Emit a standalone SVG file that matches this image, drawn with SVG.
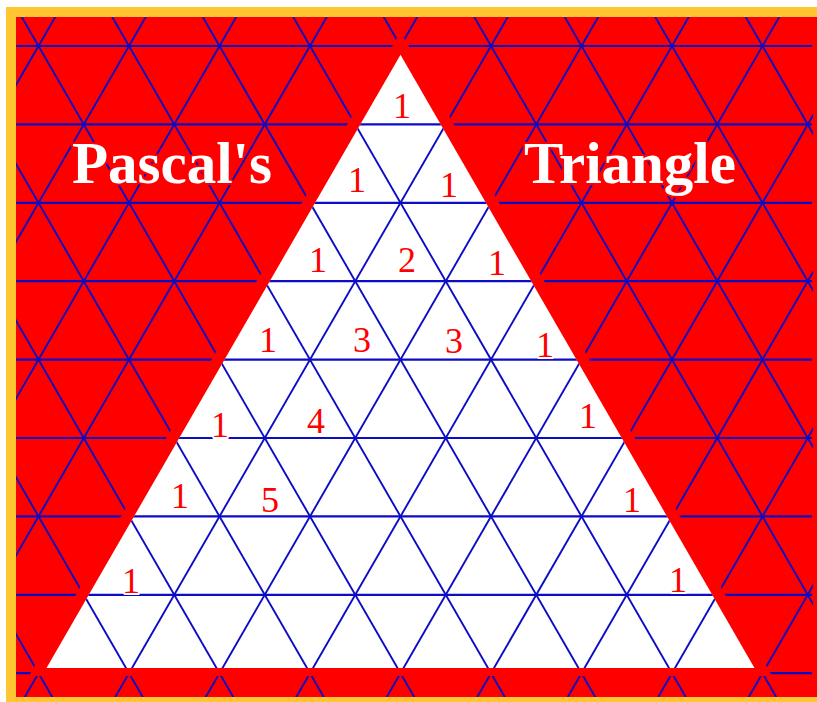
<svg xmlns="http://www.w3.org/2000/svg" xmlns:xlink="http://www.w3.org/1999/xlink" width="817" height="702" viewBox="0 0 817 702">
<style>
.h{stroke:#0c0cc4;stroke-width:2.2;}
.d{stroke:#0c0cc4;stroke-width:1.9;}
.num{font-family:"Liberation Serif","Times New Roman",serif;font-size:36px;fill:#ff0000;text-anchor:middle;stroke:#ffffff;stroke-width:4;paint-order:stroke;stroke-linejoin:round;}
.title{font-family:"Liberation Serif","Times New Roman",serif;font-size:59px;font-weight:bold;fill:#ffffff;stroke:#ff0000;stroke-width:4;paint-order:stroke;stroke-linejoin:round;}
</style>
<defs>
<line id="dr" class="d" x1="-6.75" y1="-32.4" x2="445.75" y2="751.6"/>
<line id="dl" class="d" x1="-6.75" y1="-32.4" x2="-459.25" y2="751.6"/>
<g id="lattice">
<g class="h">
<line x1="16" y1="46" x2="812" y2="46"/>
<line x1="16" y1="124.4" x2="812" y2="124.4"/>
<line x1="16" y1="202.8" x2="812" y2="202.8"/>
<line x1="16" y1="281.2" x2="812" y2="281.2"/>
<line x1="16" y1="359.6" x2="812" y2="359.6"/>
<line x1="16" y1="438" x2="812" y2="438"/>
<line x1="16" y1="516.4" x2="812" y2="516.4"/>
<line x1="16" y1="594.8" x2="812" y2="594.8"/>
<line x1="16" y1="673.2" x2="812" y2="673.2"/>
</g>
<use xlink:href="#dr" href="#dr" x="-452.5"/>
<use xlink:href="#dr" href="#dr" x="-362"/>
<use xlink:href="#dr" href="#dr" x="-271.5"/>
<use xlink:href="#dr" href="#dr" x="-181"/>
<use xlink:href="#dr" href="#dr" x="-90.5"/>
<use xlink:href="#dr" href="#dr" x="0"/>
<use xlink:href="#dr" href="#dr" x="90.5"/>
<use xlink:href="#dr" href="#dr" x="181"/>
<use xlink:href="#dr" href="#dr" x="271.5"/>
<use xlink:href="#dr" href="#dr" x="362"/>
<use xlink:href="#dr" href="#dr" x="452.5"/>
<use xlink:href="#dr" href="#dr" x="543"/>
<use xlink:href="#dr" href="#dr" x="633.5"/>
<use xlink:href="#dr" href="#dr" x="724"/>
<use xlink:href="#dr" href="#dr" x="814.5"/>
<use xlink:href="#dl" href="#dl" x="0"/>
<use xlink:href="#dl" href="#dl" x="90.5"/>
<use xlink:href="#dl" href="#dl" x="181"/>
<use xlink:href="#dl" href="#dl" x="271.5"/>
<use xlink:href="#dl" href="#dl" x="362"/>
<use xlink:href="#dl" href="#dl" x="452.5"/>
<use xlink:href="#dl" href="#dl" x="543"/>
<use xlink:href="#dl" href="#dl" x="633.5"/>
<use xlink:href="#dl" href="#dl" x="724"/>
<use xlink:href="#dl" href="#dl" x="814.5"/>
<use xlink:href="#dl" href="#dl" x="905"/>
<use xlink:href="#dl" href="#dl" x="995.5"/>
<use xlink:href="#dl" href="#dl" x="1086"/>
<use xlink:href="#dl" href="#dl" x="1176.5"/>
<use xlink:href="#dl" href="#dl" x="1267"/>
</g>
<clipPath id="clipRed"><rect x="16" y="17" width="797" height="680"/></clipPath>
<clipPath id="clipWhite"><polygon points="400.5,54.7 46.5,668 754.5,668"/></clipPath>
<clipPath id="clipBottom"><rect x="16" y="676" width="797" height="21"/></clipPath>
</defs>
<rect x="0" y="0" width="817" height="702" fill="#ffffff"/>
<rect x="6" y="7" width="811" height="695" fill="#ffc632"/>
<rect x="16" y="17" width="801" height="680" fill="#ff0000"/>
<g id="connectors">
<use xlink:href="#lattice" href="#lattice" clip-path="url(#clipRed)"/>
</g>
<g id="triangle">
<polygon points="400.5,32.1 16.8,697 784.2,697" fill="#ff0000"/>
<polygon points="400.5,54.7 46.5,668 754.5,668" fill="#ffffff"/>
<use xlink:href="#lattice" href="#lattice" clip-path="url(#clipWhite)"/>
<use xlink:href="#lattice" href="#lattice" clip-path="url(#clipBottom)"/>
</g>
<g id="title-left"><text class="title" x="72" y="183">Pascal's</text></g>
<g id="title-right"><text class="title" x="524" y="183">Triangle</text></g>
<g id="numbers">
<text class="num" x="402" y="118">1</text>
<text class="num" x="357" y="192">1</text>
<text class="num" x="449" y="197">1</text>
<text class="num" x="318" y="272">1</text>
<text class="num" x="407" y="272">2</text>
<text class="num" x="497" y="275">1</text>
<text class="num" x="268" y="352">1</text>
<text class="num" x="362" y="352">3</text>
<text class="num" x="454" y="353">3</text>
<text class="num" x="545" y="357">1</text>
<text class="num" x="220" y="437">1</text>
<text class="num" x="316" y="433">4</text>
<text class="num" x="588" y="428">1</text>
<text class="num" x="180" y="508">1</text>
<text class="num" x="270" y="512">5</text>
<text class="num" x="632" y="512">1</text>
<text class="num" x="131" y="593">1</text>
<text class="num" x="678" y="592">1</text>
</g>
</svg>
